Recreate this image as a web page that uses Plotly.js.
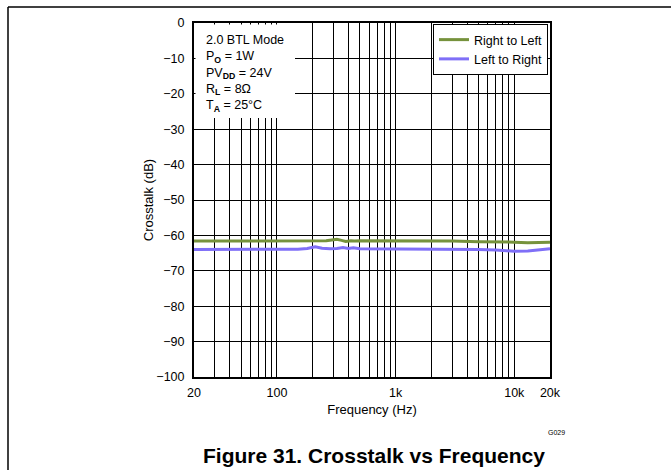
<!DOCTYPE html>
<html>
<head>
<meta charset="utf-8">
<script src="https://cdn.plot.ly/plotly-3.0.1.min.js"></script>
<style>html,body{margin:0;padding:0;background:#fff;}#chart{width:671px;height:470px;}</style>
</head>
<body>
<div id="chart"></div>
<script>
// Right to Left series
var freqRL = [20, 30, 50, 100, 150, 200, 260, 300, 320, 350, 380, 420, 450, 500, 700, 1000, 2000, 3000, 5000, 7000, 10000, 13000, 15000, 20000];
var crossRL = [-61.6, -61.6, -61.6, -61.6, -61.6, -61.6, -61.5, -61.2, -61.1, -61.4, -61.7, -61.5, -61.6, -61.5, -61.5, -61.5, -61.6, -61.6, -61.8, -61.8, -61.9, -62.1, -62.0, -61.9];
// Left to Right series
var freqLR = [20, 30, 50, 100, 150, 180, 210, 240, 280, 320, 360, 400, 440, 500, 700, 1000, 2000, 5000, 7000, 10000, 13000, 16000, 20000];
var crossLR = [-64.0, -64.0, -64.0, -64.0, -63.9, -63.7, -63.2, -63.6, -63.8, -63.7, -63.4, -63.7, -63.5, -63.8, -63.8, -63.9, -63.9, -64.0, -64.1, -64.5, -64.4, -64.2, -63.8];

var xGrid = [20,30,40,50,60,70,80,90,100,200,300,400,500,600,700,800,900,1000,2000,3000,4000,5000,6000,7000,8000,9000,10000,20000];
var xLabels = ['20','','','','','','','','100','','','','','','','','','1k','','','','','','','','','10k','20k'];
var yTicks = [0,-10,-20,-30,-40,-50,-60,-70,-80,-90,-100];
var yLabels = ['0','\u221210','\u221220','\u221230','\u221240','\u221250','\u221260','\u221270','\u221280','\u221290','\u2212100'];

var font = 'Arial, "Liberation Sans", sans-serif';

var traces = [
  {x: freqRL, y: crossRL, name: 'Right to Left', mode: 'lines', line: {color: '#76923C', width: 3}},
  {x: freqLR, y: crossLR, name: 'Left to Right', mode: 'lines', line: {color: '#7F6FF7', width: 3}}
];

var px = function (p) { return (p - 194) / 356; };
var py = function (p) { return (377 - p) / 354; };

var layout = {
  width: 671, height: 470,
  margin: {l: 194, r: 121, t: 23, b: 93, pad: 0},
  paper_bgcolor: '#fff', plot_bgcolor: '#fff',
  font: {family: font, size: 12.5, color: '#000'},
  showlegend: true,
  legend: {x: px(548), y: py(24), xanchor: 'right', yanchor: 'top', bgcolor: '#fff', bordercolor: '#000', borderwidth: 1, font: {size: 12.5}, tracegroupgap: 0},
  xaxis: {
    type: 'log', range: [Math.log10(20), Math.log10(20000)],
    tickmode: 'array', tickvals: xGrid, ticktext: xLabels,
    showgrid: true, gridcolor: '#000', gridwidth: 1,
    showline: true, linecolor: '#000', linewidth: 2, mirror: true,
    ticks: 'outside', ticklen: 3, tickcolor: 'rgba(0,0,0,0)', zeroline: false, tickfont: {size: 12.5},
    title: {text: 'Frequency (Hz)', font: {size: 13}, standoff: 6}
  },
  yaxis: {
    range: [-100, 0], tickmode: 'array', tickvals: yTicks, ticktext: yLabels,
    showgrid: true, gridcolor: '#000', gridwidth: 1,
    showline: true, linecolor: '#000', linewidth: 2, mirror: true,
    ticks: 'outside', ticklen: 5, tickcolor: 'rgba(0,0,0,0)', zeroline: false, tickfont: {size: 12.5},
    title: {text: 'Crosstalk (dB)', font: {size: 13}, standoff: 0}
  },
  shapes: [
    {type: 'rect', xref: 'paper', yref: 'paper', x0: px(195.5), x1: px(295), y0: py(118), y1: py(24.5), fillcolor: '#fff', line: {width: 0}, layer: 'above'},
    {type: 'line', xref: 'paper', yref: 'paper', x0: px(8), x1: px(8), y0: py(7), y1: py(475), line: {color: '#000', width: 1.5}},
    {type: 'line', xref: 'paper', yref: 'paper', x0: px(8), x1: px(680), y0: py(7), y1: py(7), line: {color: '#000', width: 1.5}}
  ],
  annotations: [
    {xref: 'paper', yref: 'paper', x: px(204), y: py(31), xanchor: 'left', yanchor: 'top', align: 'left', showarrow: false,
     font: {size: 12.5}, text: '2.0 BTL Mode<br>P<sub><b>O</b></sub> = 1W<br>PV<sub><b>DD</b></sub> = 24V<br>R<sub><b>L</b></sub> = 8\u03A9<br>T<sub><b>A</b></sub> = 25\u00B0C'},
    {xref: 'paper', yref: 'paper', x: px(567), y: py(432), xanchor: 'right', yanchor: 'middle', showarrow: false, font: {size: 7}, text: 'G029'},
    {xref: 'paper', yref: 'paper', x: px(374), y: py(455), xanchor: 'center', yanchor: 'middle', showarrow: false, font: {size: 21, family: font}, text: '<b>Figure 31. Crosstalk vs Frequency</b>'}
  ]
};

Plotly.newPlot('chart', traces, layout, {displayModeBar: false, staticPlot: true});
</script>
</body>
</html>
